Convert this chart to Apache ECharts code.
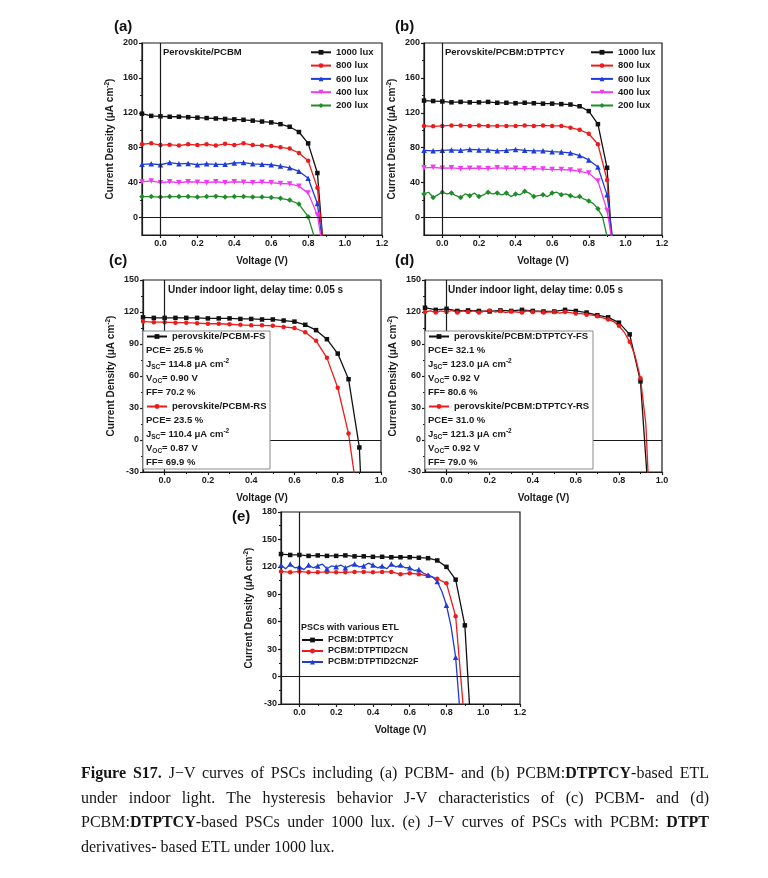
<!DOCTYPE html>
<html>
<head>
<meta charset="utf-8">
<title>Figure S17 J-V curves</title>
<script src="https://cdn.jsdelivr.net/npm/echarts@6/dist/echarts.min.js"></script>
<style>
  body { margin: 0; background: #fff; }
  #main { position: absolute; left: 0; top: 0; width: 768px; height: 878px; }
  #cap { position: absolute; left: 81px; top: 761px; width: 628px; color: #151515;
         font-family: "Liberation Serif", "Times New Roman", serif; font-size: 16px; line-height: 24.5px; }
  #cap div { text-align: justify; text-align-last: justify; white-space: nowrap; }
  #cap div.last { text-align-last: left; }
</style>
</head>
<body>
<div id="main"></div>
<div id="cap">
  <div><b>Figure S17.</b> J&minus;V curves of PSCs including (a) PCBM- and (b) PCBM:<b>DTPTCY</b>-based ETL</div>
  <div>under indoor light. The hysteresis behavior J-V characteristics of (c) PCBM- and (d)</div>
  <div>PCBM:<b>DTPTCY</b>-based PSCs under 1000 lux. (e) J&minus;V curves of PSCs with PCBM: <b>DTPT</b></div>
  <div class="last">derivatives- based ETL under 1000 lux.</div>
</div>
<script type="text/javascript">
// voltage steps of the measurements
var V05 = [-0.1,-0.05,0,0.05,0.1,0.15,0.2,0.25,0.3,0.35,0.4,0.45,0.5,0.55,0.6,0.65,0.7,0.75,0.8,0.85,0.9,0.95];
var V025 = [-0.1,-0.075,-0.05,-0.025,0,0.025,0.05,0.075,0.1,0.125,0.15,0.175,0.2,0.225,0.25,0.275,0.3,0.325,0.35,0.375,
            0.4,0.425,0.45,0.475,0.5,0.525,0.55,0.575,0.6,0.625,0.65,0.675,0.7,0.725,0.75,0.775,0.8,0.825,0.85,0.875,0.9,0.925,0.95];

// (a) perovskite/PCBM
var a1000 = [119,116.5,116,115.5,115.5,115,114.5,114,113.5,113,112.5,112,111,110,109,107,104,98,85,51,-80];
var a800  = [84,85,83,83.5,82.5,84,83,84,82.5,84.5,83,85,83,82.5,82,80.5,79,74,65,34,-70];
var a600  = [61,61.5,60.5,63,61.5,62,60.5,61.5,61,61,62.5,63,61.5,61,60.5,59,57,53,45,16,-66];
var a400  = [41,42,40,41,40,41,40.5,40,41,40,41,40.5,40,40.5,40,39,38.5,36,28,3,-64];
var a200  = [24,24,23.5,24,24,24,23.5,24,24.5,23.5,24,24,23.5,23.5,23,22,20,15.5,1,-34,-70];

// (b) perovskite/PCBM:DTPTCY
var b1000 = [134,133.5,133,132,132.5,132,132,132.5,131.5,131.5,131,131.5,131,130.5,130.5,130,129.5,127.5,122,107,57,-110];
var b800  = [105,104.5,105,105.5,105.5,105,105.5,105,105,105,105,105.5,105,105.5,105,105,103,100.5,96,84,43,-110];
var b600  = [77,76.5,77,77.5,77,78,77.5,77.5,76.5,77,78,77,76.5,76.5,75.5,75,74,71,66,58,26,-56];
var b400  = [57,57.5,56.5,57,56,56.5,56.5,56,57,56.5,56.5,56,56,55.5,55,55,54.5,53,51,42,8,-55];
var b200  = [27,29,23,26,29,27,28,25,23,27,25,28,24,26,29,27,28,26,28,24,27,26,30,28,24,25,26,24,28,29,26,27,25,23,24,21,19,16,10,1,-22];

// (c) hysteresis PCBM
var cFS = [115,114.5,114.5,114.5,114.5,114.5,114,114,114,113.5,113.5,113,113,112,111,108,103,94.5,81,57,-7,-240];
var cRS = [111,110.5,110.5,110,110,109.5,109,109,108.5,108,107.5,107.5,107,106,105,101,93,77,49,6,-66];

// (d) hysteresis PCBM:DTPTCY
var dFS = [124,122,123,121,121.5,121,120.5,121.5,121,122,121,120.5,120.5,122,121,119.5,117,115,110,99,55,-90];
var dRS = [120,121,119.5,121,120,121.5,119.5,121,120,121,119.5,120.5,121.5,120,121,119.5,120.5,120,119.5,121,120,120.5,
           119.5,120,120,119,120,119.5,118.5,118.5,117.5,117,116,114.5,113,111,107,101,92,79,58,15,-97];

// (e) various ETL
var eCY   = [134,133,133,132,132.5,132,132,132.5,131.5,131.5,131,131,130.5,130.5,130.5,130,129.5,127,120,106,56,-116];
var eCN   = [115,114,115,114,114,114.5,114,114,114.5,114.5,114,114.5,114.5,112,113,112,110,107,102,66,-54];
var eCN2F = [122,118,123,119,120,117,122,119,121,123,118,121,120,122,119,121,123,120,121,124,122,119,121,118,123,120,122,119,
             119,116,117,113,111,109,104,93,78,55,21,-43,-110];

// ticks
var xTicks12 = [0,0.2,0.4,0.6,0.8,1.0,1.2];
var xMinor12 = [0.1,0.3,0.5,0.7,0.9,1.1];
var xTicks10 = [0,0.2,0.4,0.6,0.8,1.0];
var xMinor10 = [0.1,0.3,0.5,0.7,0.9];
var yTicks200 = [0,40,80,120,160,200];
var yMinor200 = [20,60,100,140,180];
var yTicks150 = [-30,0,30,60,90,120,150];
var yMinor150 = [-15,15,45,75,105,135];
var yTicks180 = [-30,0,30,60,90,120,150,180];
var yMinor180 = [-15,15,45,75,105,135,165];

// legend side texts
var cStatsFS = ['PCE= 25.5 %', 'J{s|SC}= 114.8 \u03bcA cm{p|-2}', 'V{s|OC}= 0.90 V', 'FF= 70.2 %'];
var cStatsRS = ['PCE= 23.5 %', 'J{s|SC}= 110.4 \u03bcA cm{p|-2}', 'V{s|OC}= 0.87 V', 'FF= 69.9 %'];
var dStatsFS = ['PCE= 32.1 %', 'J{s|SC}= 123.0 \u03bcA cm{p|-2}', 'V{s|OC}= 0.92 V', 'FF= 80.6 %'];
var dStatsRS = ['PCE= 31.0 %', 'J{s|SC}= 121.3 \u03bcA cm{p|-2}', 'V{s|OC}= 0.92 V', 'FF= 79.0 %'];

var FONT = '"Liberation Sans", Arial, sans-serif';
var INK = '#1a1a1a';
var C = { k: '#111111', r: '#ec1c1c', b: '#1f3bd8', m: '#ee3cee', g: '#1e8c28' };

var myChart = echarts.init(document.getElementById('main'));

function pts(xs, ys) {
    return ys.map(function (y, i) { return [xs[i], y]; });
}

function grid(l, t, w, h) {
    return { left: l, top: t, width: w, height: h, show: true, borderColor: INK, borderWidth: 1.2, backgroundColor: 'transparent' };
}

function xPair(gi, max, ticks, minors) {
    return [{
        type: 'value', gridIndex: gi, position: 'bottom', min: -0.1, max: max,
        name: 'Voltage (V)', nameLocation: 'middle', nameGap: 21,
        nameTextStyle: { fontFamily: FONT, fontWeight: 'bold', fontSize: 10, color: INK },
        axisLine: { onZero: false, lineStyle: { color: INK, width: 1.2 } },
        axisTick: { customValues: ticks, length: 3, lineStyle: { color: INK, width: 1.2 } },
        axisLabel: { customValues: ticks, margin: 4, fontFamily: FONT, fontWeight: 'bold', fontSize: 9, color: INK,
                     formatter: function (v) { return v.toFixed(1); } },
        splitLine: { show: false }
    }, {
        type: 'value', gridIndex: gi, position: 'bottom', min: -0.1, max: max,
        axisLine: { show: false, onZero: false },
        axisTick: { customValues: minors, length: 2, lineStyle: { color: INK, width: 1 } },
        axisLabel: { show: false }, splitLine: { show: false }
    }];
}

function yPair(gi, min, max, ticks, minors) {
    return [{
        type: 'value', gridIndex: gi, position: 'left', min: min, max: max,
        name: 'Current Density ({m|\u03bc}A cm{p|-2})', nameLocation: 'middle', nameGap: 25,
        nameTextStyle: { fontFamily: FONT, fontWeight: 'bold', fontSize: 10, color: INK,
                         rich: { m: { fontSize: 10, fontWeight: 'bold', fontFamily: FONT, color: INK },
                                 p: { fontSize: 6.5, fontWeight: 'bold', fontFamily: FONT, color: INK, padding: [0, 0, 6, 0] } } },
        axisLine: { onZero: false, lineStyle: { color: INK, width: 1.2 } },
        axisTick: { customValues: ticks, length: 3, lineStyle: { color: INK, width: 1.2 } },
        axisLabel: { customValues: ticks, margin: 4, fontFamily: FONT, fontWeight: 'bold', fontSize: 9, color: INK },
        splitLine: { show: false }
    }, {
        type: 'value', gridIndex: gi, position: 'left', min: min, max: max,
        axisLine: { show: false, onZero: false },
        axisTick: { customValues: minors, length: 2, lineStyle: { color: INK, width: 1 } },
        axisLabel: { show: false }, splitLine: { show: false }
    }];
}

var SYM = {
    k: { symbol: 'rect', size: 4.5, rot: 0 },
    r: { symbol: 'circle', size: 4.5, rot: 0 },
    b: { symbol: 'triangle', size: 5.5, rot: 0 },
    m: { symbol: 'triangle', size: 5.5, rot: 180 },
    g: { symbol: 'diamond', size: 5.5, rot: 0 }
};

// one measured curve; sparse = markers only on every other point
function curve(name, gi, xs, ys, col, sparse) {
    var s = SYM[col];
    return {
        type: 'line', name: name, xAxisIndex: gi * 2, yAxisIndex: gi * 2,
        data: pts(xs, ys), color: C[col], symbol: s.symbol, symbolRotate: s.rot,
        symbolSize: sparse ? function (v, p) { return p.dataIndex % 2 ? 0 : s.size; } : s.size,
        showAllSymbol: true, clip: true, smooth: false,
        lineStyle: { width: 1.3, color: C[col] }, itemStyle: { color: C[col] },
        z: 3
    };
}

function zeroLines(gi) {
    return {
        type: 'line', xAxisIndex: gi * 2, yAxisIndex: gi * 2, data: [], silent: true, z: 2,
        markLine: { silent: true, symbol: 'none', label: { show: false },
                    lineStyle: { color: INK, width: 1.2, type: 'solid' },
                    data: [{ yAxis: 0 }, { xAxis: 0 }] }
    };
}

function legend(names, left, top, iw, fs, gap, strip) {
    return {
        data: names, left: left, top: top, orient: 'vertical', padding: 0, itemGap: gap, z: 30,
        itemWidth: iw, itemHeight: 6, selectedMode: false,
        textStyle: { fontFamily: FONT, fontWeight: 'bold', fontSize: fs, color: INK, lineHeight: 12 },
        formatter: strip ? function (n) { return n.slice(2); } : '{name}'
    };
}

function txt(x, y, s, size) {
    return { type: 'text', x: x, y: y, z: 20,
             style: { text: s, fill: INK, font: 'bold ' + (size || 9.5) + 'px ' + FONT, verticalAlign: 'middle', align: 'left',
                      rich: { s: { fontSize: 6.5, fontWeight: 'bold', fontFamily: FONT, fill: INK, padding: [6, 0, 0, 0] },
                              p: { fontSize: 6.5, fontWeight: 'bold', fontFamily: FONT, fill: INK, padding: [0, 0, 6, 0] } } } };
}

function label(x, y, s) {
    return { type: 'text', x: x, y: y, z: 20,
             style: { text: s, fill: '#111', font: 'bold 15px ' + FONT, verticalAlign: 'middle', align: 'left' } };
}

function box(x, y, w, h) {
    return { type: 'rect', z: 10, shape: { x: x, y: y, width: w, height: h },
             style: { fill: '#fff', stroke: '#8a8a8a', lineWidth: 1 } };
}

var rows = [336.5, 350.5, 364.5, 378.5, 392.5, 406.5, 420.5, 434.5, 448.5, 462.5];

var graphics = [
    label(114, 27, '(a)'), label(395, 27, '(b)'), label(109, 261, '(c)'), label(395, 261, '(d)'), label(232, 517, '(e)'),
    txt(163, 52, 'Perovskite/PCBM'), txt(445, 52, 'Perovskite/PCBM:DTPTCY'),
    txt(168, 290, 'Under indoor light, delay time: 0.05 s', 10), txt(448, 290, 'Under indoor light, delay time: 0.05 s', 10),
    txt(301, 628, 'PSCs with various ETL', 9),
    box(143, 331, 127, 138), box(425, 331, 168, 138)
];
cStatsFS.forEach(function (s, i) { graphics.push(txt(146, rows[i + 1], s)); });
cStatsRS.forEach(function (s, i) { graphics.push(txt(146, rows[i + 6], s)); });
dStatsFS.forEach(function (s, i) { graphics.push(txt(428, rows[i + 1], s)); });
dStatsRS.forEach(function (s, i) { graphics.push(txt(428, rows[i + 6], s)); });

var xAxes = [].concat(xPair(0, 1.2, xTicks12, xMinor12), xPair(1, 1.2, xTicks12, xMinor12),
                      xPair(2, 1.0, xTicks10, xMinor10), xPair(3, 1.0, xTicks10, xMinor10),
                      xPair(4, 1.2, xTicks12, xMinor12));
var yAxes = [].concat(yPair(0, -20, 200, yTicks200, yMinor200), yPair(1, -20, 200, yTicks200, yMinor200),
                      yPair(2, -30, 150, yTicks150, yMinor150), yPair(3, -30, 150, yTicks150, yMinor150),
                      yPair(4, -30, 180, yTicks180, yMinor180));

var series = [
    zeroLines(0), zeroLines(1), zeroLines(2), zeroLines(3), zeroLines(4),
    curve('1000 lux', 0, V05, a1000, 'k'), curve('800 lux', 0, V05, a800, 'r'), curve('600 lux', 0, V05, a600, 'b'),
    curve('400 lux', 0, V05, a400, 'm'), curve('200 lux', 0, V05, a200, 'g'),
    curve('b:1000 lux', 1, V05, b1000, 'k'), curve('b:800 lux', 1, V05, b800, 'r'), curve('b:600 lux', 1, V05, b600, 'b'),
    curve('b:400 lux', 1, V05, b400, 'm'), curve('b:200 lux', 1, V025, b200, 'g', true),
    curve('perovskite/PCBM-FS', 2, V05, cFS, 'k'), curve('perovskite/PCBM-RS', 2, V05, cRS, 'r'),
    curve('perovskite/PCBM:DTPTCY-FS', 3, V05, dFS, 'k'), curve('perovskite/PCBM:DTPTCY-RS', 3, V025, dRS, 'r', true),
    curve('PCBM:DTPTCY', 4, V05, eCY, 'k'), curve('PCBM:DTPTID2CN', 4, V05, eCN, 'r'), curve('PCBM:DTPTID2CN2F', 4, V025, eCN2F, 'b', true)
];

myChart.setOption({
    animation: false,
    backgroundColor: '#fff',
    grid: [grid(142, 43, 240, 192), grid(424, 43, 238, 192), grid(143, 280, 238, 192),
           grid(425, 280, 237, 192), grid(281, 512, 239, 192)],
    xAxis: xAxes,
    yAxis: yAxes,
    legend: [
        legend(['1000 lux', '800 lux', '600 lux', '400 lux', '200 lux'], 310, 46.3, 20, 9.5, 1.3, false),
        legend(['b:1000 lux', 'b:800 lux', 'b:600 lux', 'b:400 lux', 'b:200 lux'], 590, 46.3, 22, 9.5, 1.3, true),
        legend(['perovskite/PCBM-FS'], 146, rows[0] - 6, 20, 9.5, 0, false),
        legend(['perovskite/PCBM-RS'], 146, rows[5] - 6, 20, 9.5, 0, false),
        legend(['perovskite/PCBM:DTPTCY-FS'], 428, rows[0] - 6, 20, 9.5, 0, false),
        legend(['perovskite/PCBM:DTPTCY-RS'], 428, rows[5] - 6, 20, 9.5, 0, false),
        legend(['PCBM:DTPTCY', 'PCBM:DTPTID2CN', 'PCBM:DTPTID2CN2F'], 301, 634, 21, 9, -1, false)
    ],
    graphic: graphics,
    series: series
});
</script>
</body>
</html>
